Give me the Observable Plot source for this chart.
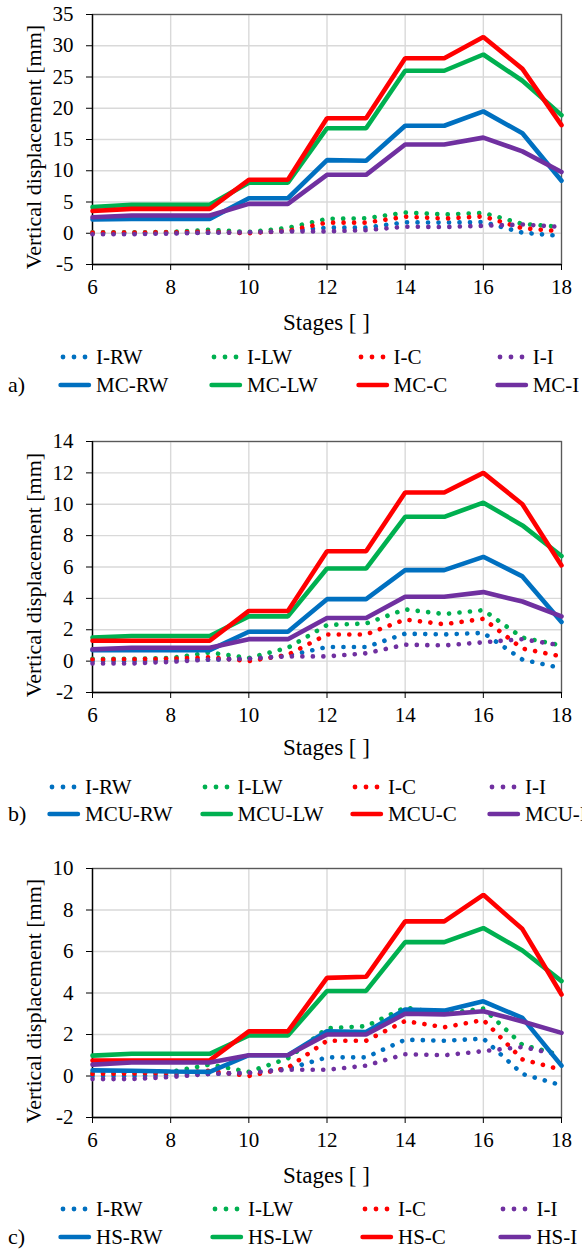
<!DOCTYPE html>
<html>
<head>
<meta charset="utf-8">
<script src="https://cdn.jsdelivr.net/npm/d3@7"></script>
<script src="https://cdn.jsdelivr.net/npm/@observablehq/plot@0.6"></script>
<style>
  html, body { margin: 0; padding: 0; background: #fff; }
  #root { position: relative; width: 582px; height: 1249px; overflow: hidden; background: #fff;
          font-family: 'Liberation Serif', Tinos, 'Times New Roman', 'DejaVu Serif', serif; color: #000; }
  .abs { position: absolute; white-space: nowrap; line-height: 1; }
  svg text { font-family: 'Liberation Serif', Tinos, 'Times New Roman', 'DejaVu Serif', serif; }
</style>
</head>
<body>
<div id="root"></div>
<script>
// ---------- data ----------
const stages = [6, 7, 8, 9, 10, 11, 12, 13, 14, 15, 16, 17, 18];

const iRW = [0.0, 0.0, 0.05, 0.1, 0.15, 0.35, 0.9, 0.9, 1.75, 1.7, 1.8, 0.1, -0.45];
const iLW = [0.15, 0.15, 0.2, 0.55, 0.2, 0.85, 2.3, 2.4, 3.3, 3.0, 3.25, 1.5, 1.0];
const iC  = [0.1, 0.12, 0.15, 0.25, 0.0, 0.4, 1.7, 1.7, 2.65, 2.35, 2.7, 0.8, 0.3];
const iI  = [-0.15, -0.15, -0.05, 0.1, 0.15, 0.3, 0.3, 0.5, 1.05, 1.0, 1.2, 1.4, 1.0];

const mcRW = [2.2, 2.3, 2.3, 2.3, 5.6, 5.6, 11.7, 11.6, 17.2, 17.2, 19.5, 16.0, 8.4];
const mcLW = [4.2, 4.55, 4.55, 4.55, 8.1, 8.1, 16.8, 16.8, 26.0, 26.0, 28.6, 24.4, 18.9];
const mcC  = [3.56, 3.9, 3.9, 3.9, 8.55, 8.55, 18.4, 18.4, 28.0, 28.0, 31.4, 26.3, 17.3];
const mcI  = [2.55, 2.85, 2.85, 2.85, 4.7, 4.7, 9.35, 9.35, 14.2, 14.2, 15.3, 13.1, 9.8];

const mcuRW = [0.7, 0.7, 0.7, 0.7, 1.87, 1.87, 3.95, 3.95, 5.8, 5.8, 6.65, 5.4, 2.5];
const mcuLW = [1.5, 1.6, 1.6, 1.6, 2.85, 2.85, 5.9, 5.9, 9.2, 9.2, 10.1, 8.65, 6.7];
const mcuC  = [1.3, 1.3, 1.3, 1.3, 3.2, 3.2, 7.0, 7.0, 10.75, 10.75, 12.0, 10.0, 6.1];
const mcuI  = [0.75, 0.85, 0.85, 0.85, 1.4, 1.4, 2.75, 2.75, 4.1, 4.1, 4.4, 3.8, 2.85];

const hsRW = [0.27, 0.25, 0.22, 0.2, 1.0, 1.0, 2.16, 2.12, 3.2, 3.15, 3.6, 2.8, 0.5];
const hsLW = [0.98, 1.07, 1.07, 1.07, 1.95, 1.95, 4.1, 4.1, 6.45, 6.45, 7.13, 6.05, 4.57];
const hsC  = [0.75, 0.75, 0.75, 0.75, 2.15, 2.15, 4.73, 4.78, 7.45, 7.45, 8.73, 7.08, 3.93];
const hsI  = [0.55, 0.65, 0.65, 0.65, 1.0, 1.0, 2.0, 2.0, 3.0, 2.97, 3.12, 2.63, 2.08];

const colors = ["#0070C0", "#00B050", "#FF0000", "#7030A0"];
const xTicks = [6, 8, 10, 12, 14, 16, 18];
const dottedNames = ["I-RW", "I-LW", "I-C", "I-I"];
const namesA = ["MC-RW", "MC-LW", "MC-C", "MC-I"];
const namesB = ["MCU-RW", "MCU-LW", "MCU-C", "MCU-I"];
const namesC = ["HS-RW", "HS-LW", "HS-C", "HS-I"];
const yTicksA = [-5, 0, 5, 10, 15, 20, 25, 30, 35];
const yTicksB = [-2, 0, 2, 4, 6, 8, 10, 12, 14];
const yTicksC = [-2, 0, 2, 4, 6, 8, 10];
const xTitle = "Stages [ ]";
const yTitle = "Vertical displacement [mm]";

// ---------- layout ----------
const root = document.getElementById("root");
const ML = 92, MR = 21, MT = 14, MB = 40;
const FONT = "'Liberation Serif', Tinos, 'Times New Roman', 'DejaVu Serif', serif";

function toRows(names, series) {
  const rows = [];
  names.forEach((n, k) => series[k].forEach((v, i) => rows.push({name: n, k, stage: stages[i], value: v})));
  return rows;
}

function panel(cfg) {
  const {top, plotH, yTicks, solidNames, solid, letter, legendX, legendY, titleY} = cfg;
  const dotted = toRows(dottedNames, [iRW, iLW, iC, iI]);
  const solidRows = toRows(solidNames, solid);
  const ymin = yTicks[0], ymax = yTicks[yTicks.length - 1];
  const marks = [
    Plot.gridX(xTicks, {stroke: "#d9d9d9", strokeOpacity: 1, strokeWidth: 1.4}),
    Plot.gridY(yTicks, {stroke: "#d9d9d9", strokeOpacity: 1, strokeWidth: 1.4}),
    Plot.frame({stroke: "#595959", strokeWidth: 1.3}),
    Plot.ruleX([6], {stroke: "#000", strokeWidth: 1.3}),
    Plot.ruleY([ymin], {stroke: "#000", strokeWidth: 1.3}),
    Plot.axisX({ticks: xTicks, tickSize: 6, tickPadding: 9, fontSize: 21, fontFamily: FONT, label: null, tickFormat: d => String(d)}),
    Plot.axisY({ticks: yTicks, tickSize: 6, tickPadding: 13, fontSize: 21, fontFamily: FONT, label: null, tickFormat: d => String(d)})
  ];
  dottedNames.forEach((n, k) => {
    marks.push(Plot.line(dotted.filter(d => d.name === n), {
      x: "stage", y: "value", stroke: colors[k], strokeWidth: 4.6,
      strokeDasharray: "0.1 10.4", strokeLinecap: "round", strokeLinejoin: "round"
    }));
  });
  solidNames.forEach((n, k) => {
    marks.push(Plot.line(solidRows.filter(d => d.name === n), {
      x: "stage", y: "value", stroke: colors[k], strokeWidth: 4.6, strokeLinejoin: "miter"
    }));
  });
  const svg = Plot.plot({
    width: 582, height: MT + plotH + MB,
    marginLeft: ML, marginRight: MR, marginTop: MT, marginBottom: MB,
    x: {domain: [6, 18]},
    y: {domain: [ymin, ymax]},
    style: {fontFamily: FONT, fontSize: "21px", color: "#000", background: "transparent", overflow: "visible"},
    marks
  });
  svg.style.position = "absolute";
  svg.style.left = "0px";
  svg.style.top = (top - MT) + "px";
  root.appendChild(svg);

  // y title
  const yt = document.createElement("div");
  yt.className = "abs";
  yt.textContent = yTitle;
  yt.style.fontSize = "22px";
  yt.style.left = "33.5px";
  yt.style.top = (top + plotH / 2 + 8) + "px";
  yt.style.transform = "translate(-50%, -50%) rotate(-90deg)";
  root.appendChild(yt);

  // x title
  const xt = document.createElement("div");
  xt.className = "abs";
  xt.textContent = xTitle;
  xt.style.fontSize = "23px";
  xt.style.left = ((ML + 582 - MR) / 2) + "px";
  xt.style.top = titleY + "px";
  xt.style.transform = "translate(-50%, -50%)";
  root.appendChild(xt);

  // legend
  const rowsDef = [
    {names: dottedNames, y: legendY[0], dotted: true},
    {names: solidNames, y: legendY[1], dotted: false}
  ];
  rowsDef.forEach(r => {
    r.names.forEach((n, k) => {
      const tx = legendX[k];
      const sw = document.createElementNS("http://www.w3.org/2000/svg", "svg");
      sw.setAttribute("width", 40); sw.setAttribute("height", 10);
      sw.style.position = "absolute";
      sw.style.left = (tx - 40) + "px";
      sw.style.top = (r.y - 5) + "px";
      if (r.dotted) {
        [7, 18, 29].forEach(cx => {
          const c = document.createElementNS("http://www.w3.org/2000/svg", "circle");
          c.setAttribute("cx", cx); c.setAttribute("cy", 5); c.setAttribute("r", 2.4);
          c.setAttribute("fill", colors[k]);
          sw.appendChild(c);
        });
      } else {
        const l = document.createElementNS("http://www.w3.org/2000/svg", "line");
        l.setAttribute("x1", 4.5); l.setAttribute("x2", 33); l.setAttribute("y1", 5); l.setAttribute("y2", 5);
        l.setAttribute("stroke", colors[k]); l.setAttribute("stroke-width", 4.4);
        l.setAttribute("stroke-linecap", "round");
        sw.appendChild(l);
      }
      root.appendChild(sw);
      const t = document.createElement("div");
      t.className = "abs";
      t.textContent = n;
      t.style.fontSize = "21px";
      t.style.left = tx + "px";
      t.style.top = r.y + "px";
      t.style.transform = "translateY(-50%)";
      root.appendChild(t);
    });
  });
  const lt = document.createElement("div");
  lt.className = "abs";
  lt.textContent = letter;
  lt.style.fontSize = "22px";
  lt.style.left = "8px";
  lt.style.top = legendY[1] + "px";
  lt.style.transform = "translateY(-50%)";
  root.appendChild(lt);
}

panel({top: 14, plotH: 250, yTicks: yTicksA, solidNames: namesA, solid: [mcRW, mcLW, mcC, mcI],
       letter: "a)", legendX: [96, 247, 393.5, 532.7], legendY: [356.7, 385], titleY: 321.7});
panel({top: 441, plotH: 251, yTicks: yTicksB, solidNames: namesB, solid: [mcuRW, mcuLW, mcuC, mcuI],
       letter: "b)", legendX: [85, 237.6, 388, 525], legendY: [786.7, 814], titleY: 746.7});
panel({top: 868, plotH: 249, yTicks: yTicksC, solidNames: namesC, solid: [hsRW, hsLW, hsC, hsI],
       letter: "c)", legendX: [96, 248, 398, 536.4], legendY: [1209, 1236.7], titleY: 1175});
</script>
</body>
</html>
